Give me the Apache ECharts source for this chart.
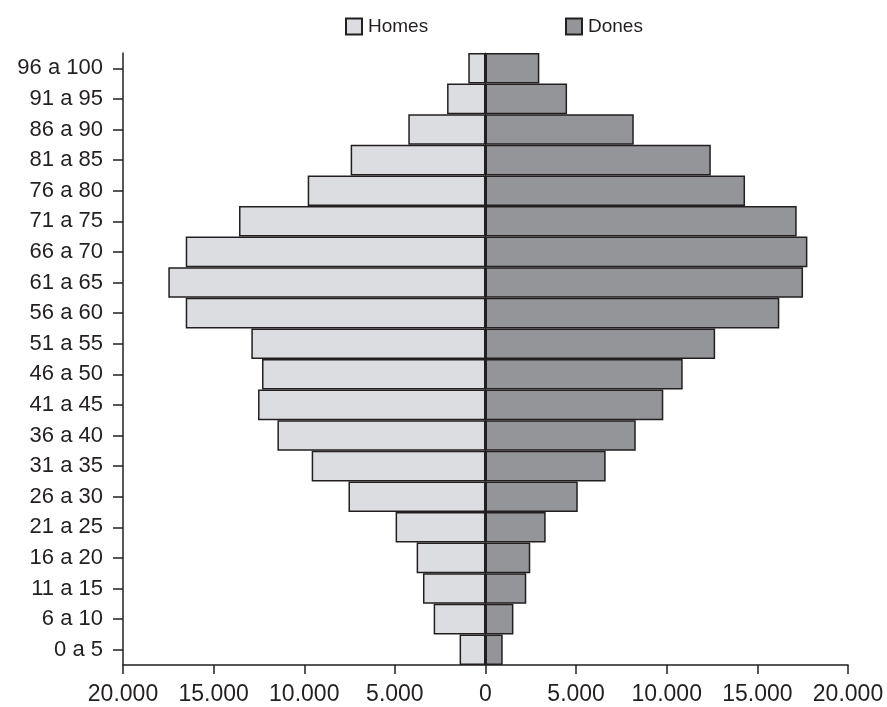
<!DOCTYPE html>
<html>
<head>
<meta charset="utf-8">
<script src="https://cdn.jsdelivr.net/npm/echarts@6/dist/echarts.min.js"></script>
<style>html,body{margin:0;padding:0;background:#fff}#c{width:887px;height:707px}</style>
</head>
<body>
<div id="c"></div>
<script>
var categories = ['0 a 5','6 a 10','11 a 15','16 a 20','21 a 25','26 a 30','31 a 35','36 a 40','41 a 45','46 a 50','51 a 55','56 a 60','61 a 65','66 a 70','71 a 75','76 a 80','81 a 85','86 a 90','91 a 95','96 a 100'];
var homes = [1430,2860,3450,3800,4960,7560,9590,11480,12550,12330,12920,16540,17500,16540,13600,9810,7440,4260,2120,950];
var dones = [950,1540,2250,2470,3320,5090,6630,8290,9810,10880,12670,16210,17520,17760,17170,14320,12430,8180,4500,2970];
var xTicks = [-20000,-15000,-10000,-5000,0,5000,10000,15000,20000];

var FONT = 'Liberation Sans';
var INK = '#231f20';
function fmt(v){
  var a = Math.abs(v);
  return String(a).replace(/\B(?=(\d{3})+(?!\d))/g, '.');
}
var chart = echarts.init(document.getElementById('c'));
chart.setOption({
  animation: false,
  textStyle: {fontFamily: FONT, color: INK},
  legend: [
    {data: ['Homes'], left: 340, top: 12, itemWidth: 16, itemHeight: 16, itemGap: 0, icon: 'rect',
     textStyle: {fontFamily: FONT, fontSize: 19, color: INK, padding: [0,0,0,1]}},
    {data: ['Dones'], left: 560, top: 12, itemWidth: 16, itemHeight: 16, itemGap: 0, icon: 'rect',
     textStyle: {fontFamily: FONT, fontSize: 19, color: INK, padding: [0,0,0,1]}}
  ],
  grid: {left: 123, right: 39, top: 53, bottom: 42, containLabel: false},
  xAxis: {
    type: 'value', min: xTicks[0], max: xTicks[xTicks.length-1], interval: 5000,
    splitLine: {show: false},
    axisLine: {show: true, onZero: false, lineStyle: {color: INK, width: 1.5}},
    axisTick: {show: true, length: 9, lineStyle: {color: INK, width: 1.5}},
    axisLabel: {formatter: fmt, fontFamily: FONT, fontSize: 23, color: INK, margin: 18}
  },
  yAxis: [
    {
      type: 'category', data: categories, position: 'left',
      axisLine: {show: true, onZero: false, lineStyle: {color: INK, width: 1.5}},
      axisTick: {show: true, length: 10, alignWithLabel: true, lineStyle: {color: INK, width: 1.5}},
      axisLabel: {fontFamily: FONT, fontSize: 22, color: INK, margin: 20}
    },
    {
      type: 'category', data: categories, position: 'left',
      axisLine: {show: true, onZero: true, lineStyle: {color: INK, width: 1}},
      axisTick: {show: true, length: 4, alignWithLabel: true, lineStyle: {color: INK, width: 1.5}},
      axisLabel: {show: false}
    }
  ],
  series: [
    {name: 'Homes', type: 'bar', stack: 'p', barCategoryGap: '0%', z: 1,
     data: homes.map(function(v){return -v;}),
     itemStyle: {color: '#dcdde0', borderColor: INK, borderWidth: 1.5}},
    {name: 'Dones', type: 'bar', stack: 'p', barCategoryGap: '0%', z: 1,
     data: dones,
     itemStyle: {color: '#939598', borderColor: INK, borderWidth: 1.5}}
  ]
});
</script>
</body>
</html>
